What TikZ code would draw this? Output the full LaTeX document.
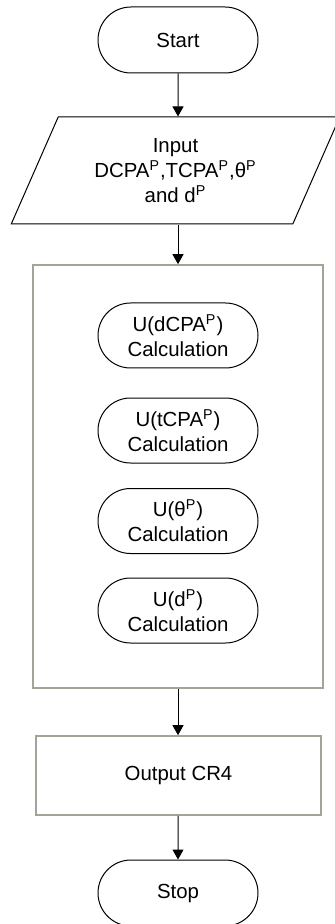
\documentclass[tikz,border=0pt]{standalone}
\usepackage{fontspec}
\setmainfont{Liberation Sans}
\usetikzlibrary{arrows.meta,shapes.misc,shapes.geometric}
\definecolor{cInk}{HTML}{000000}
\definecolor{cFrame}{HTML}{A3A396}
\tikzset{
  every node/.style={font=\fontsize{10.2}{12.5}\selectfont,text=cInk},
  term/.style={draw=cInk,rounded rectangle,line width=0.5pt,minimum width=82pt,minimum height=#1,align=center,inner sep=1pt},
  term/.default=33pt,
  iobox/.style={draw=cInk,trapezium,trapezium left angle=64,trapezium right angle=116,trapezium stretches=true,minimum width=164.5pt,minimum height=53.5pt,align=center,line width=0.5pt,inner sep=1pt},
  gbox/.style={draw=cFrame,line width=0.8pt,inner sep=0pt,align=center},
  arr/.style={-{Triangle[length=5pt,width=5.5pt]},line width=0.5pt,color=cInk},
}

\begin{document}
\begin{tikzpicture}[x=0.5pt,y=-0.5pt]
    \useasboundingbox (0,0) rectangle (335,924);
    \node[term] (start) at (178,40) {Start};
    \node[iobox] (input) at (175.5,170.5) {Input\\DCPA\textsuperscript{P},TCPA\textsuperscript{P},θ\textsuperscript{P}\\and d\textsuperscript{P}};
    \node[gbox,minimum width=145pt,minimum height=211.5pt] (calc) at (178,476.5) {};
    \node[term=32.5pt] (udcpa) at (178,335.5) {U(dCPA\textsuperscript{P})\\Calculation};
    \node[term=32.5pt] (utcpa) at (178,430.5) {U(tCPA\textsuperscript{P})\\Calculation};
    \node[term=32.5pt] (utheta) at (178,521) {U(θ\textsuperscript{P})\\Calculation};
    \node[term=32.5pt] (ud) at (178,610.5) {U(d\textsuperscript{P})\\Calculation};
    \node[gbox,minimum width=142.5pt,minimum height=39.5pt] (out) at (178.5,775.5) {Output CR4};
    \node[term] (stop) at (178,893) {Stop};
    \draw[arr] (start) -- (start.south |- input.north);
    \draw[arr] (start.south |- input.south) -- (start.south |- calc.north);
    \draw[arr] (start.south |- calc.south) -- (start.south |- out.north);
    \draw[arr] (start.south |- out.south) -- (stop);
  \end{tikzpicture}
\end{document}
